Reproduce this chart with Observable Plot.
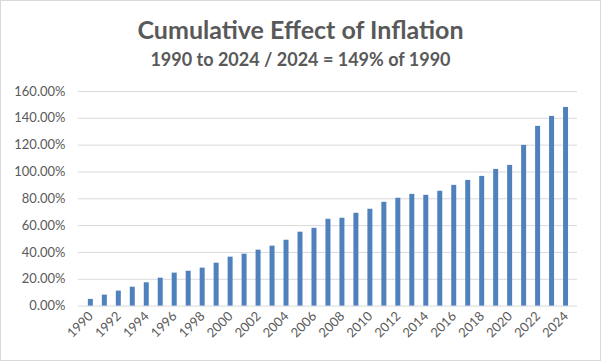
<!DOCTYPE html>
<html>
<head>
<meta charset="utf-8">
<script src="https://cdn.jsdelivr.net/npm/d3@7"></script>
<script src="https://cdn.jsdelivr.net/npm/@observablehq/plot@0.6"></script>
<style>
  html, body { margin: 0; padding: 0; background: #fff; }
  #chart { position: relative; width: 599px; height: 359px; border: 1px solid #d9d9d9; background: #fff; font-family: Lato, "Open Sans", sans-serif; overflow: hidden; }
  #title { position: absolute; top: 13px; left: 0; width: 100%; text-align: center; font-size: 25px; font-weight: bold; color: #595959; }
  #subtitle { position: absolute; top: 47px; left: 0; width: 100%; text-align: center; font-size: 18px; font-weight: bold; color: #595959; }
  #plot { position: absolute; top: 74px; left: -1px; }
</style>
</head>
<body>
<div id="chart">
  <div id="title">Cumulative Effect of Inflation</div>
  <div id="subtitle">1990 to 2024 / 2024 = 149% of 1990</div>
  <div id="plot"></div>
</div>
<script>
const years = d3.range(1990, 2025);
const values = [5.0, 8.2, 11.2, 14.1, 17.4, 20.8, 24.6, 26.0, 28.3, 32.0,
  36.5, 38.7, 41.7, 44.7, 49.1, 55.1, 58.0, 64.7, 65.5, 69.2,
  72.2, 77.4, 80.4, 83.3, 82.6, 85.6, 90.0, 93.7, 96.7, 101.9,
  104.9, 119.8, 134.0, 141.4, 148.1];
const yTicks = [0, 20, 40, 60, 80, 100, 120, 140, 160];
const xTickYears = years.filter(y => (y - 1990) % 2 === 0);

const data = years.map((y, i) => ({year: y, value: values[i]}));

const plot = Plot.plot({
  width: 601,
  height: 285,
  marginLeft: 78,
  marginRight: 23,
  marginTop: 16,
  marginBottom: 54,
  style: {fontFamily: "Lato, 'Open Sans', sans-serif", fontSize: "13px", color: "#595959", background: "transparent"},
  x: {type: "band", domain: years, paddingInner: 0.66, paddingOuter: 0.33},
  y: {domain: [0, 160]},
  marks: [
    Plot.gridY(yTicks, {stroke: "#d9d9d9", strokeOpacity: 1, strokeWidth: 1}),
    Plot.barY(data, {x: "year", y: "value", fill: "#4f81bd"}),
    Plot.axisY({ticks: yTicks, tickSize: 0, tickPadding: 13, tickFormat: d => d.toFixed(2) + "%", label: null, fill: "#595959"}),
    Plot.axisX({ticks: xTickYears, tickSize: 0, tickPadding: 8, tickRotate: -45, tickFormat: d => String(d), label: null, fill: "#595959"})
  ]
});
document.getElementById("plot").appendChild(plot);
</script>
</body>
</html>
